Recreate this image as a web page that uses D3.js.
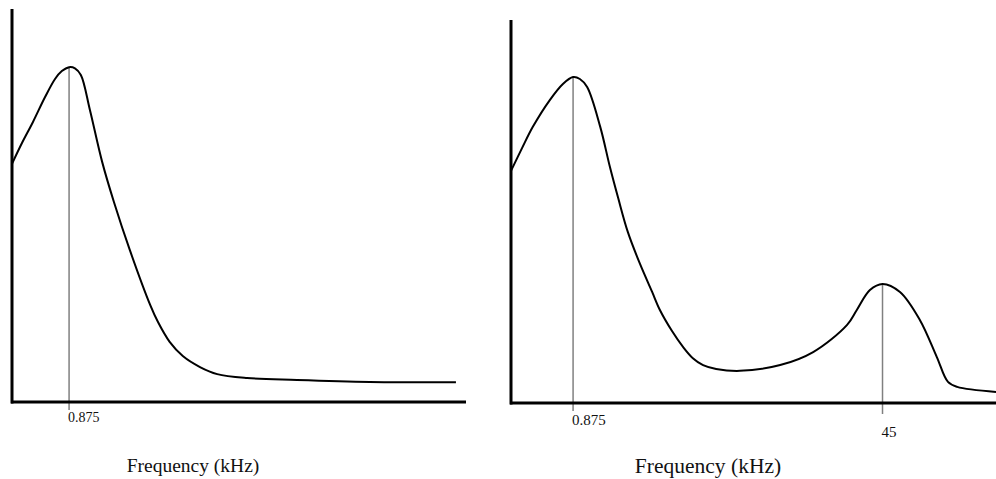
<!DOCTYPE html>
<html>
<head>
<meta charset="utf-8">
<script src="https://cdn.jsdelivr.net/npm/d3@7"></script>
<style>
    body { margin: 0; background: #fff; }
    svg { display: block; }
</style>
</head>
<body>
<script>
// left spectrum: one peak (x in axis units 0-100, amplitude 0-100)
const leftX = [0, 2.2, 4.6, 7.3, 9.5, 11.0, 12.6, 13.9, 15.2, 17.2, 19.9, 22.5, 26.0, 30.5, 32.2, 34.8, 37.7, 41.5, 45.3, 51.9, 62.9, 79.0, 98.0];
const leftY = [60.6, 65.9, 71.2, 77.6, 82.2, 84.2, 85.2, 84.9, 83.2, 74.3, 61.1, 50.9, 38.7, 24.7, 20.4, 15.3, 11.7, 8.9, 7.1, 6.1, 5.6, 5.1, 5.0];
const leftTicks = [12.6];
const leftTickLabels = ['0.875'];

// right spectrum: two peaks
const rightX = [0, 2.3, 4.5, 8.0, 10.7, 12.8, 14.2, 15.7, 18.4, 20.4, 22.1, 24.1, 26.6, 29.1, 30.7, 33.2, 35.5, 37.5, 39.6, 42.3, 47.2, 55.5, 62.3, 69.3, 71.3, 74.0, 76.6, 80.2, 84.3, 87.8, 90.1, 92.0, 100];
const rightY = [60.6, 66.6, 72.1, 79.1, 83.3, 85.1, 84.6, 82.5, 72.1, 61.6, 53.5, 44.6, 36.3, 29.0, 24.3, 18.8, 14.6, 11.7, 9.9, 8.9, 8.4, 9.9, 13.3, 20.4, 24.3, 29.5, 31.1, 29.0, 21.7, 12.0, 5.5, 4.2, 2.9];
const rightTicks = [12.8, 76.6];
const rightTickLabels = ['0.875', '45'];

const xLabel = 'Frequency (kHz)';

const width = 996, height = 479;
const serif = '"Liberation Serif", "Times New Roman", "DejaVu Serif", serif';

const panels = [
    { xs: leftX, ys: leftY, ticks: leftTicks, labels: leftTickLabels,
      xRange: [12, 465], yRange: [402, 9], axisEnd: 466,
      tickFont: 14, labelDy: [20], titleX: 193, titleY: 472, titleFont: 19.5 },
    { xs: rightX, ys: rightY, ticks: rightTicks, labels: rightTickLabels,
      xRange: [511, 996], yRange: [403, 20], axisEnd: 1000,
      tickFont: 15, labelDy: [22, 34], titleX: 708, titleY: 473, titleFont: 21.5 }
];

const svg = d3.create('svg')
    .attr('width', width)
    .attr('height', height)
    .attr('font-family', serif);

svg.append('rect')
    .attr('width', width)
    .attr('height', height)
    .attr('fill', '#fff');

panels.forEach(p => {
    const x = d3.scaleLinear().domain([0, 100]).range(p.xRange);
    const y = d3.scaleLinear().domain([0, 100]).range(p.yRange);
    const data = p.xs.map((v, i) => ({ x: v, y: p.ys[i] }));
    const g = svg.append('g');

    // peak marker lines + labels
    p.ticks.forEach((t, i) => {
        const nearest = data.reduce((a, b) => Math.abs(b.x - t) < Math.abs(a.x - t) ? b : a);
        g.append('line')
            .attr('x1', x(t)).attr('x2', x(t))
            .attr('y1', y(nearest.y)).attr('y2', y(0) + (i === 0 ? 8 : 11))
            .attr('stroke', '#808080')
            .attr('stroke-width', 1.5);
        g.append('text')
            .attr('x', x(t) - 1)
            .attr('y', y(0) + p.labelDy[i])
            .attr('font-family', serif)
            .attr('font-size', p.tickFont)
            .attr('fill', '#111')
            .text(p.labels[i]);
    });

    const line = d3.line()
        .x(d => x(d.x))
        .y(d => y(d.y))
        .curve(d3.curveCatmullRom.alpha(0.5));

    g.append('path')
        .datum(data)
        .attr('fill', 'none')
        .attr('stroke', '#000')
        .attr('stroke-width', 2)
        .attr('d', line);

    // axes: plain thick lines, no ticks
    g.append('line')
        .attr('x1', x(0) - 1).attr('x2', p.axisEnd)
        .attr('y1', y(0)).attr('y2', y(0))
        .attr('stroke', '#000').attr('stroke-width', 3);
    g.append('line')
        .attr('x1', x(0)).attr('x2', x(0))
        .attr('y1', y(0) + 1.5).attr('y2', y(100))
        .attr('stroke', '#000').attr('stroke-width', 3);

    g.append('text')
        .attr('x', p.titleX)
        .attr('y', p.titleY)
        .attr('text-anchor', 'middle')
        .attr('font-family', serif)
        .attr('font-size', p.titleFont)
        .attr('fill', '#111')
        .text(xLabel);
});

document.querySelector('body').appendChild(svg.node());
</script>
</body>
</html>
